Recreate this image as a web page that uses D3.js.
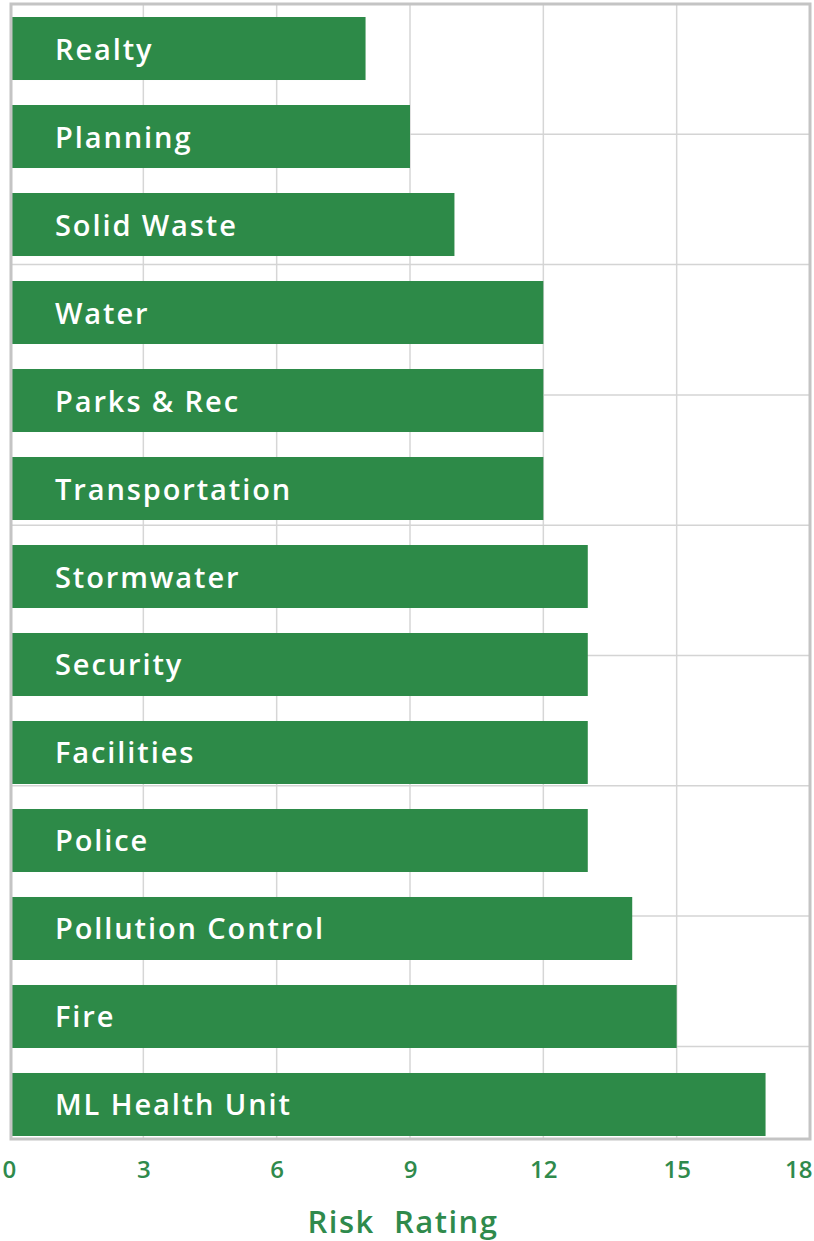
<!DOCTYPE html>
<html>
<head>
<meta charset="utf-8">
<script src="https://cdn.jsdelivr.net/npm/d3@7"></script>
<style>
  body { margin: 0; background: #fff; }
  svg { display: block; }
</style>
</head>
<body>
<div id="chart"></div>
<script>
// departments, top to bottom
const departments = [
    'Realty', 'Planning', 'Solid Waste', 'Water', 'Parks & Rec', 'Transportation',
    'Stormwater', 'Security', 'Facilities', 'Police', 'Pollution Control', 'Fire', 'ML Health Unit'
];
const riskRating = [8, 9, 10, 12, 12, 12, 13, 13, 13, 13, 14, 15, 17];
const xTicks = [0, 3, 6, 9, 12, 15, 18];
const xTitle = 'Risk\u00a0\u00a0Rating';

const W = 814, H = 1241;
const frame = { left: 11, right: 810, top: 4, bottom: 1139 };
const green = '#2d8a48';
const textGreen = '#2f8a4c';
const font = "'Open Sans', 'DejaVu Sans', sans-serif";

const svg = d3.select('#chart')
    .append('svg')
    .attr('width', W)
    .attr('height', H);

const x = d3.scaleLinear()
    .domain([0, 18])
    .range([frame.left - 1, frame.right]);

const y = d3.scaleBand()
    .domain(departments)
    .range([17, 1136])
    .paddingInner(0.284)
    .paddingOuter(0);

// vertical grid
svg.append('g')
    .selectAll('line')
    .data(xTicks.slice(1, -1))
    .enter().append('line')
    .attr('x1', d => x(d)).attr('x2', d => x(d))
    .attr('y1', frame.top).attr('y2', frame.bottom)
    .attr('stroke', '#d6d6d6')
    .attr('stroke-width', 1.5);

// horizontal grid (lines every ~130px, independent of the bars)
const hStep = 130.3;
svg.append('g')
    .selectAll('line')
    .data(d3.range(1, 9))
    .enter().append('line')
    .attr('x1', frame.left).attr('x2', frame.right)
    .attr('y1', d => frame.top + d * hStep).attr('y2', d => frame.top + d * hStep)
    .attr('stroke', '#d4d4d4')
    .attr('stroke-width', 1.5);

// bars
svg.selectAll('.bar')
    .data(departments)
    .enter().append('rect')
    .attr('class', 'bar')
    .attr('x', x(0) + 2)
    .attr('y', d => y(d))
    .attr('width', (d, i) => x(riskRating[i]) - x(0) - 2)
    .attr('height', y.bandwidth())
    .attr('fill', green);

// frame
svg.append('rect')
    .attr('x', frame.left)
    .attr('y', frame.top)
    .attr('width', frame.right - frame.left)
    .attr('height', frame.bottom - frame.top)
    .attr('fill', 'none')
    .attr('stroke', '#c4c4c4')
    .attr('stroke-width', 3);

// bar labels
svg.selectAll('.lbl')
    .data(departments)
    .enter().append('text')
    .attr('class', 'lbl')
    .attr('x', 55)
    .attr('y', d => y(d) + y.bandwidth() / 2 + 11)
    .attr('fill', '#fff')
    .style('font-family', font)
    .style('font-weight', 600)
    .style('font-size', '29px')
    .style('letter-spacing', '1.9px')
    .text(d => d);

// x axis
const xAxis = svg.append('g')
    .attr('transform', `translate(0, ${frame.bottom})`)
    .call(d3.axisBottom(x).tickValues(xTicks).tickSize(0).tickPadding(22));
xAxis.select('.domain').remove();
xAxis.selectAll('text')
    .attr('fill', textGreen)
    .style('font-family', font)
    .style('font-weight', 600)
    .style('font-size', '24px')
    .attr('text-anchor', d => d === 18 ? 'end' : (d === 0 ? 'start' : 'middle'))
    .attr('dx', d => d === 18 ? 2 : (d === 0 ? -8 : 0));

svg.append('text')
    .attr('x', 403)
    .attr('y', 1233)
    .attr('text-anchor', 'middle')
    .attr('fill', textGreen)
    .style('font-family', font)
    .style('font-weight', 600)
    .style('font-size', '31px')
    .style('letter-spacing', '1.5px')
    .text(xTitle);
</script>
</body>
</html>
